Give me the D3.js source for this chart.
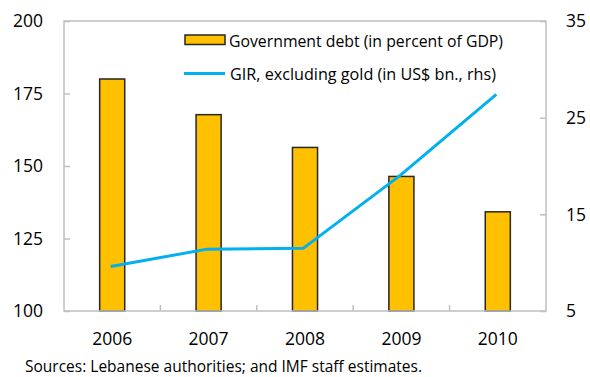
<!DOCTYPE html>
<html>
<head>
<meta charset="utf-8">
<script src="https://cdn.jsdelivr.net/npm/d3@7"></script>
<style>
  html, body { margin: 0; padding: 0; background: #fff; }
  svg text { font-family: "Open Sans", "Liberation Sans", sans-serif; fill: #000; }
</style>
</head>
<body>
<svg id="chart" width="590" height="377"></svg>
<script>
// Lebanon: government debt vs. gross international reserves
const years = ["2006", "2007", "2008", "2009", "2010"];
const debtPctGDP = [180, 167.7, 156.4, 146.4, 134.2];
const girExGold = [9.6, 11.4, 11.5, 19.0, 27.4];
const leftTicks = [100, 125, 150, 175, 200];
const rightTicks = [5, 15, 25, 35];
const legendLabels = ["Government debt (in percent of GDP)", "GIR, excluding gold (in US$ bn., rhs)"];
const sourceNote = "Sources: Lebanese authorities; and IMF staff estimates.";

const svg = d3.select("#chart");
const plot = { left: 64, right: 546, top: 21, bottom: 311 };

const xSlot = d3.scaleBand().domain(years).range([plot.left, plot.right]).padding(0);
const xBar = d3.scaleBand().domain(years).range([plot.left, plot.right])
  .paddingInner(0.74).paddingOuter(0.37);
const yLeft = d3.scaleLinear().domain([100, 200]).range([plot.bottom, plot.top]);
const yRight = d3.scaleLinear().domain([5, 35]).range([plot.bottom, plot.top]);

const frameColor = "#BFBFBF";

// Bars: government debt
svg.append("g").selectAll("rect").data(years).join("rect")
  .attr("x", d => xBar(d))
  .attr("y", (d, i) => yLeft(debtPctGDP[i]))
  .attr("width", xBar.bandwidth())
  .attr("height", (d, i) => yLeft(100) - yLeft(debtPctGDP[i]))
  .attr("fill", "#FFC000")
  .attr("stroke", "#262626")
  .attr("stroke-width", 1.5);

// Plot frame
svg.append("rect")
  .attr("x", plot.left).attr("y", plot.top)
  .attr("width", plot.right - plot.left).attr("height", plot.bottom - plot.top)
  .attr("fill", "none").attr("stroke", frameColor).attr("stroke-width", 1.5);

// Left axis (ticks point inward)
const leftAxis = svg.append("g").attr("transform", `translate(${plot.left},0)`)
  .call(d3.axisRight(yLeft).tickValues(leftTicks).tickSize(6).tickFormat(""));
leftAxis.select(".domain").remove();
leftAxis.selectAll("line").attr("stroke", frameColor).attr("stroke-width", 1.5);
svg.append("g").selectAll("text").data(leftTicks).join("text")
  .attr("x", 43).attr("y", d => yLeft(d)).attr("dy", "0.36em")
  .attr("text-anchor", "end").attr("font-size", 17.5).text(d => d);

// Right axis (ticks point inward)
const rightAxis = svg.append("g").attr("transform", `translate(${plot.right},0)`)
  .call(d3.axisLeft(yRight).tickValues(rightTicks).tickSize(6).tickFormat(""));
rightAxis.select(".domain").remove();
rightAxis.selectAll("line").attr("stroke", frameColor).attr("stroke-width", 1.5);
svg.append("g").selectAll("text").data(rightTicks).join("text")
  .attr("x", 566).attr("y", d => yRight(d)).attr("dy", "0.36em")
  .attr("text-anchor", "start").attr("font-size", 17.5).text(d => d);

// Category axis: tick marks at slot boundaries, labels centred in slots
const boundaries = years.slice(1).map(d => xSlot(d));
svg.append("g").selectAll("line").data(boundaries).join("line")
  .attr("x1", d => d).attr("x2", d => d)
  .attr("y1", plot.bottom).attr("y2", plot.bottom - 6)
  .attr("stroke", frameColor).attr("stroke-width", 1.5);
svg.append("g").selectAll("text").data(years).join("text")
  .attr("x", d => xSlot(d) + xSlot.bandwidth() / 2).attr("y", 345)
  .attr("text-anchor", "middle").attr("font-size", 17.5).text(d => d);

// GIR line on right axis
const line = d3.line()
  .x((d, i) => xSlot(years[i]) + xSlot.bandwidth() / 2 - 1.5)
  .y(d => yRight(d));
svg.append("path").datum(girExGold)
  .attr("d", line)
  .attr("fill", "none").attr("stroke", "#00B0F0").attr("stroke-width", 3)
  .attr("stroke-linejoin", "round");

// Legend
const lg = svg.append("g");
lg.append("rect").attr("x", 185).attr("y", 35).attr("width", 40).attr("height", 9.5)
  .attr("fill", "#FFC000").attr("stroke", "#262626").attr("stroke-width", 1.5);
lg.append("line").attr("x1", 184).attr("x2", 225).attr("y1", 73.5).attr("y2", 73.5)
  .attr("stroke", "#00B0F0").attr("stroke-width", 3);
lg.append("text").attr("x", 229).attr("y", 46.5).attr("font-size", 16)
  .attr("textLength", 274).attr("lengthAdjust", "spacingAndGlyphs").text(legendLabels[0]);
lg.append("text").attr("x", 230).attr("y", 79.5).attr("font-size", 16)
  .attr("textLength", 266).attr("lengthAdjust", "spacingAndGlyphs").text(legendLabels[1]);

// Source note
svg.append("text").attr("x", 25).attr("y", 372).attr("font-size", 15.5)
  .attr("textLength", 397).attr("lengthAdjust", "spacingAndGlyphs").text(sourceNote);
</script>
</body>
</html>
